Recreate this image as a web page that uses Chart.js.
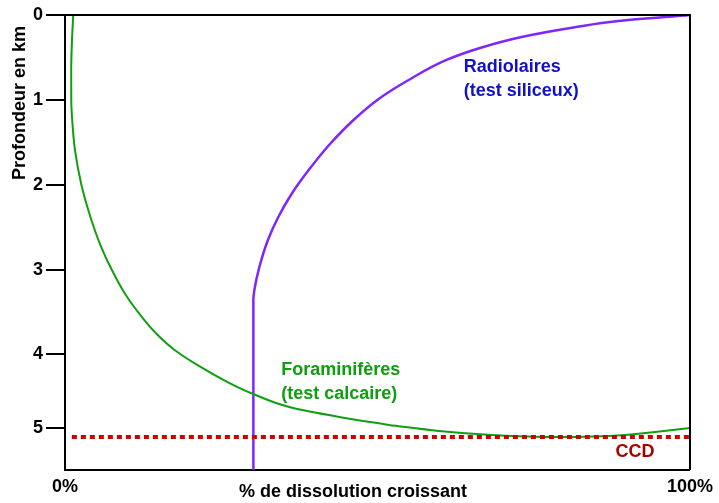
<!DOCTYPE html>
<html>
<head>
<meta charset="utf-8">
<script src="https://cdn.jsdelivr.net/npm/chart.js@4.4.1/dist/chart.umd.min.js"></script>
<style>
  html, body { margin: 0; padding: 0; background: #fff; }
  #wrap { width: 719px; height: 503px; }
</style>
</head>
<body>
<div id="wrap"><canvas id="dissolutionChart" width="719" height="503"></canvas></div>
<script>
// Depth axis: tick positions along the drawn axis and their labels
const depthTicks = [0, 1, 2, 3, 3.99, 4.86];
const depthTickLabels = ['0', '1', '2', '3', '4', '5'];
const depthMax = 5.353;

// % dissolution axis
const dissolutionTicks = [0, 100];

// Foraminifères (test calcaire)
const foramDissolution = [1.32, 1.12, 0.99, 1.0, 1.21, 1.59, 2.63, 4.07, 5.66, 7.5, 9.73, 12.44, 14.83, 17.54, 21.69, 26.0, 30.14, 35.89, 43.86, 51.83, 59.81, 68.26, 78.95, 89.63, 100];
const foramDepth = [0, 0.294, 0.647, 1.0, 1.294, 1.588, 2.0, 2.376, 2.706, 3.0, 3.294, 3.565, 3.765, 3.941, 4.141, 4.318, 4.459, 4.612, 4.729, 4.824, 4.894, 4.941, 4.965, 4.941, 4.859];
// the descending part is smoothed along depth, the flat bottom along %
const foramBend = 19;

// Radiolaires (test siliceux)
const radioDissolution = [30.14, 30.14, 30.3, 31.1, 32.47, 34.13, 36.35, 38.99, 42.26, 46.17, 50.19, 54.98, 61.04, 66.4, 73.05, 81.82, 88.52, 100];
const radioDepth = [5.353, 3.353, 3.235, 2.965, 2.647, 2.376, 2.094, 1.824, 1.529, 1.235, 0.988, 0.765, 0.529, 0.388, 0.259, 0.141, 0.071, 0];

// CCD level
const ccdDissolution = [1.1, 100];
const ccdDepth = [4.965, 4.965];

const FONT = "'Liberation Sans', Arial, sans-serif";
const GREEN = '#119f11';
const VIOLET = '#7d26fd';

function toPoints(xs, ys) {
    return xs.map((x, i) => ({ x: x, y: ys[i] }));
}

const foramPoints = toPoints(foramDissolution, foramDepth);

// Labels written inside the plot, anchored in data units
const plotLabels = [
    { text: 'Radiolaires', x: 63.8, y: 0.61, color: '#1111cc', align: 'left' },
    { text: '(test siliceux)', x: 63.8, y: 0.9, color: '#1111cc', align: 'left' },
    { text: 'Foraminifères', x: 34.6, y: 4.18, color: '#109e10', align: 'left' },
    { text: '(test calcaire)', x: 34.6, y: 4.46, color: '#109e10', align: 'left' },
    { text: 'CCD', x: 91.2, y: 5.14, color: '#a50000', align: 'center' }
];

const framePlugin = {
    id: 'frame',
    afterDraw(chart) {
        const c = chart.ctx;
        const a = chart.chartArea;
        const xs = chart.scales.x, ys = chart.scales.y;
        c.save();
        // top and right edges of the box
        c.strokeStyle = '#000';
        c.lineWidth = 2;
        c.beginPath();
        c.moveTo(a.left, a.top);
        c.lineTo(a.right, a.top);
        c.lineTo(a.right, a.bottom);
        c.stroke();

        c.font = 'bold 18px ' + FONT;
        c.textBaseline = 'middle';
        plotLabels.forEach(l => {
            c.fillStyle = l.color;
            c.textAlign = l.align;
            c.fillText(l.text, xs.getPixelForValue(l.x), ys.getPixelForValue(l.y));
        });

        // axis titles
        c.fillStyle = '#000';
        c.textAlign = 'center';
        c.fillText('% de dissolution croissant', 353, 492);
        c.translate(20, 103);
        c.rotate(-Math.PI / 2);
        c.fillText('Profondeur en km', 0, 0);
        c.restore();
    }
};

const curve = {
    type: 'line',
    pointRadius: 0,
    fill: false,
    cubicInterpolationMode: 'monotone'
};

const ctx = document.getElementById('dissolutionChart').getContext('2d');

new Chart(ctx, {
    type: 'scatter',
    data: {
        datasets: [
            {
                label: 'CCD',
                data: toPoints(ccdDissolution, ccdDepth),
                showLine: true,
                borderColor: '#cc0000',
                borderWidth: 4,
                borderDash: [5, 4],
                borderCapStyle: 'butt',
                pointRadius: 0
            },
            Object.assign({}, curve, {
                label: 'Foraminifères',
                data: foramPoints.slice(0, foramBend + 1),
                indexAxis: 'y',
                borderColor: GREEN,
                borderWidth: 2
            }),
            Object.assign({}, curve, {
                label: 'Foraminifères (fond)',
                data: foramPoints.slice(foramBend),
                indexAxis: 'x',
                borderColor: GREEN,
                borderWidth: 2
            }),
            Object.assign({}, curve, {
                label: 'Radiolaires',
                data: toPoints(radioDissolution, radioDepth),
                indexAxis: 'y',
                borderColor: VIOLET,
                borderWidth: 2.5
            })
        ]
    },
    options: {
        responsive: false,
        animation: false,
        layout: { padding: { top: 15, right: 27, bottom: 0, left: 0 } },
        plugins: {
            legend: { display: false },
            tooltip: { enabled: false }
        },
        scales: {
            x: {
                type: 'linear',
                min: 0,
                max: 100,
                afterFit(scale) { scale.height = 33; },
                afterBuildTicks(scale) {
                    scale.ticks = dissolutionTicks.map(v => ({ value: v }));
                },
                grid: { display: false, drawTicks: false },
                border: { display: true, color: '#000', width: 2 },
                ticks: {
                    color: '#000',
                    padding: 6,
                    maxRotation: 0,
                    font: { family: FONT, size: 18, weight: 'bold' },
                    callback: v => v + '%'
                }
            },
            y: {
                type: 'linear',
                reverse: true,
                min: 0,
                max: depthMax,
                afterFit(scale) { scale.width = 65; },
                afterBuildTicks(scale) {
                    scale.ticks = depthTicks.map(v => ({ value: v }));
                },
                grid: {
                    drawOnChartArea: false,
                    drawTicks: true,
                    tickLength: 19,
                    color: '#000',
                    lineWidth: 2
                },
                border: { display: true, color: '#000', width: 2 },
                ticks: {
                    color: '#000',
                    padding: 3,
                    font: { family: FONT, size: 18, weight: 'bold' },
                    callback: (v, i) => depthTickLabels[i]
                }
            }
        }
    },
    plugins: [framePlugin]
});
</script>
</body>
</html>
